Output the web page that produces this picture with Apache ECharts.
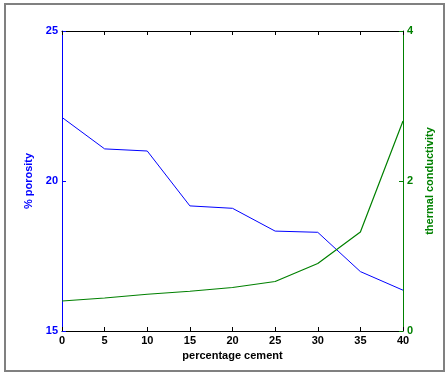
<!DOCTYPE html>
<html><head><meta charset="utf-8">
<script src="https://cdn.jsdelivr.net/npm/echarts@6/dist/echarts.min.js"></script>
<style>html,body{margin:0;padding:0;background:#fff}#c{width:448px;height:376px}
#f{position:absolute;left:4px;top:3px;width:437px;height:365px;border:2px solid #808080;pointer-events:none}</style>
</head><body><div id="c"></div><div id="f"></div>
<script>
const xValues = [0, 5, 10, 15, 20, 25, 30, 35, 40];
const porosity = [22.12, 21.07, 21.0, 19.17, 19.09, 18.33, 18.29, 16.98, 16.36];
const conductivity = [0.40, 0.44, 0.49, 0.53, 0.58, 0.66, 0.90, 1.32, 2.80];
const xTicks = [0, 5, 10, 15, 20, 25, 30, 35, 40];
const leftTicks = [15, 20, 25];
const rightTicks = [0, 2, 4];

const font = 'Liberation Sans, Arial, sans-serif';
const chart = echarts.init(document.getElementById('c'), null, {renderer: 'canvas'});
const lbl = (c) => ({color: c, fontFamily: font, fontWeight: 'bold', fontSize: 11});
chart.setOption({
  animation: false,
  grid: {left: 62, right: 45, top: 31, bottom: 45, containLabel: false},
  xAxis: [{
    type: 'value', min: 0, max: 40, interval: 5, position: 'bottom',
    name: 'percentage cement', nameLocation: 'middle', nameGap: 14,
    nameTextStyle: lbl('#000'),
    axisLine: {show: true, onZero: false, lineStyle: {color: '#000', width: 1}},
    axisTick: {show: true, inside: true, length: 4, lineStyle: {color: '#000'}},
    axisLabel: Object.assign(lbl('#000'), {margin: 4, formatter: v => xTicks.includes(v) ? String(v) : ''}),
    splitLine: {show: false}
  }, {
    type: 'value', min: 0, max: 40, interval: 5, position: 'top',
    axisLine: {show: true, onZero: false, lineStyle: {color: '#000', width: 1}},
    axisTick: {show: true, inside: true, length: 4, lineStyle: {color: '#000'}},
    axisLabel: {show: false}, splitLine: {show: false}
  }],
  yAxis: [{
    type: 'value', min: 15, max: 25, interval: 5, position: 'left',
    name: '% porosity', nameLocation: 'middle', nameGap: 16, nameRotate: 90,
    nameTextStyle: lbl('#0000ff'),
    axisLine: {show: true, onZero: false, lineStyle: {color: '#0000ff', width: 1}},
    axisTick: {show: true, inside: true, length: 4, lineStyle: {color: '#0000ff'}},
    axisLabel: Object.assign(lbl('#0000ff'), {margin: 4, formatter: v => leftTicks.includes(v) ? String(v) : ''}),
    splitLine: {show: false}
  }, {
    type: 'value', min: 0, max: 4, interval: 2, position: 'right',
    name: 'thermal conductivity', nameLocation: 'middle', nameGap: 11, nameRotate: 90,
    nameTextStyle: lbl('#008000'),
    axisLine: {show: true, onZero: false, lineStyle: {color: '#008000', width: 1}},
    axisTick: {show: true, inside: true, length: 4, lineStyle: {color: '#008000'}},
    axisLabel: Object.assign(lbl('#008000'), {margin: 4, formatter: v => rightTicks.includes(v) ? String(v) : ''}),
    splitLine: {show: false}
  }],
  series: [{
    type: 'line', xAxisIndex: 0, yAxisIndex: 0, symbol: 'none',
    data: xValues.map((x, i) => [x, porosity[i]]),
    lineStyle: {color: '#0000ff', width: 1}
  }, {
    type: 'line', xAxisIndex: 0, yAxisIndex: 1, symbol: 'none',
    data: xValues.map((x, i) => [x, conductivity[i]]),
    lineStyle: {color: '#008000', width: 1.2}
  }]
});
</script></body></html>
